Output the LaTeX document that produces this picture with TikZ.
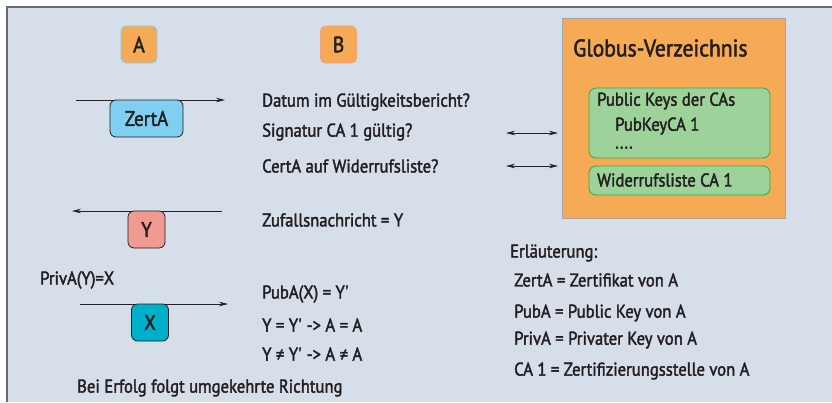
\documentclass[tikz,border=0pt]{standalone}
\usepackage{fontspec}
\setmainfont{PT Sans}[FakeStretch=0.9, FakeBold=2]
\usetikzlibrary{arrows.meta}
\definecolor{bg}{HTML}{D6DEEA}
\definecolor{frameg}{HTML}{6B6B6E}
\definecolor{org}{HTML}{F7AA55}
\definecolor{zblue}{HTML}{80CFF2}
\definecolor{ypink}{HTML}{F19A92}
\definecolor{xteal}{HTML}{00AFC9}
\definecolor{grn}{HTML}{9DD39A}
\definecolor{grnb}{HTML}{2EAA4A}
\definecolor{txt}{HTML}{231F20}
\newcommand{\sq}{\textquotesingle}
\tikzset{
  lbl/.style={anchor=west, inner sep=0pt, text=txt, font=\fontsize{18.5}{20}\selectfont},
  party/.style={draw, line width=0.8pt, fill=org, rounded corners=5pt, minimum width=36pt, minimum height=37pt, inner sep=0pt, text=txt, font=\fontsize{22}{24}\selectfont},
  msg/.style={draw=txt, line width=0.8pt, rounded corners=6pt, minimum height=37pt, inner sep=0pt, text=txt, font=\fontsize{21}{23}\selectfont},
  greenbox/.style={draw=grnb, line width=0.8pt, fill=grn, rounded corners=7pt, inner sep=0pt},
  arr/.style={draw=txt, line width=0.8pt, -{Stealth[length=9pt,width=4.5pt]}},
  darr/.style={draw=txt, line width=0.8pt, {Stealth[length=9pt,width=4.5pt]}-{Stealth[length=9pt,width=4.5pt]}}
}
\begin{document}
\begin{tikzpicture}[x=1pt,y=-1pt]
\useasboundingbox (0,0) rectangle (832,402);
\fill[white] (0,0) rectangle (832,402);
\fill[bg] (7,7) rectangle (832,402);
\draw[frameg, line width=1.6pt] (7,402) -- (7,7) -- (832,7);

% parties
\node[party, draw=zblue] (A) at (139,44.5) {A};
\node[party, draw=ypink!70!org] (B) at (338.5,44.5) {B};

% Globus directory
\node[draw=black!35, line width=0.9pt, fill=org, minimum width=223pt, minimum height=200pt, inner sep=0pt] (G) at (673.5,118) {};
\node[lbl, font=\fontsize{24}{26}\selectfont] (Gt) at (573,48) {Globus-Verzeichnis};
\node[greenbox, minimum width=181pt, minimum height=70pt] (K) at (679.5,123) {};
\node[lbl] (K1) at (597,101) {Public Keys der CAs};
\node[lbl] (K2) at (615,126) {PubKeyCA 1};
\node[lbl, text depth=0pt, text height=3pt] (K3) at (615,147) {....};
\node[greenbox, minimum width=181pt, minimum height=29pt] (W) at (679.5,180.5) {};
\node[lbl] (W1) at (597,180) {Widerrufsliste CA 1};

% ZertA message
\coordinate (z1) at (76,100);
\coordinate (z2) at (225,100);
\draw[arr] (z1) -- (z2);
\node[msg, fill=zblue, minimum width=73pt] (Z) at (146.5,118.5) {ZertA};

\node[lbl] (t1) at (262,102) {Datum im Gültigkeitsbericht?};
\node[lbl] (t2) at (262,132) {Signatur CA 1 gültig?};
\node[lbl] (t3) at (262,166) {CertA auf Widerrufsliste?};

\coordinate (d1a) at (506,133);
\coordinate (d1b) at (558,133);
\coordinate (d2a) at (506,166);
\coordinate (d2b) at (558,166);
\draw[darr] (d1a) -- (d1b);
\draw[darr] (d2a) -- (d2b);

% Y message
\coordinate (y1) at (222,211);
\coordinate (y2) at (72,211);
\draw[arr] (y1) -- (y2);
\node[msg, fill=ypink, minimum width=37pt] (Y) at (146.5,229.5) {Y};
\node[lbl] (t4) at (262,220) {Zufallsnachricht = Y};

% X message
\node[lbl] (p) at (40,280) {PrivA(Y)=X};
\coordinate (x1) at (80,304);
\coordinate (x2) at (228,304);
\draw[arr] (x1) -- (x2);
\node[msg, fill=xteal, minimum width=37pt] (X) at (150,322.5) {X};

\node[lbl] (t5) at (262,294) {PubA(X) = Y\sq};
\node[lbl] (t6) at (262,325) {Y = Y\sq{} -> A = A};
\node[lbl] (t7) at (262,354) {Y ≠ Y\sq{} -> A ≠ A};

\node[lbl] (t8) at (77,388) {Bei Erfolg folgt umgekehrte Richtung};

% legend
\node[lbl] (e0) at (510,253) {Erläuterung:};
\node[lbl] (e1) at (514,280) {ZertA = Zertifikat von A};
\node[lbl] (e2) at (514,313) {PubA = Public Key von A};
\node[lbl] (e3) at (514,340) {PrivA = Privater Key von A};
\node[lbl] (e4) at (514,371) {CA 1 = Zertifizierungsstelle von A};
\end{tikzpicture}
\end{document}
